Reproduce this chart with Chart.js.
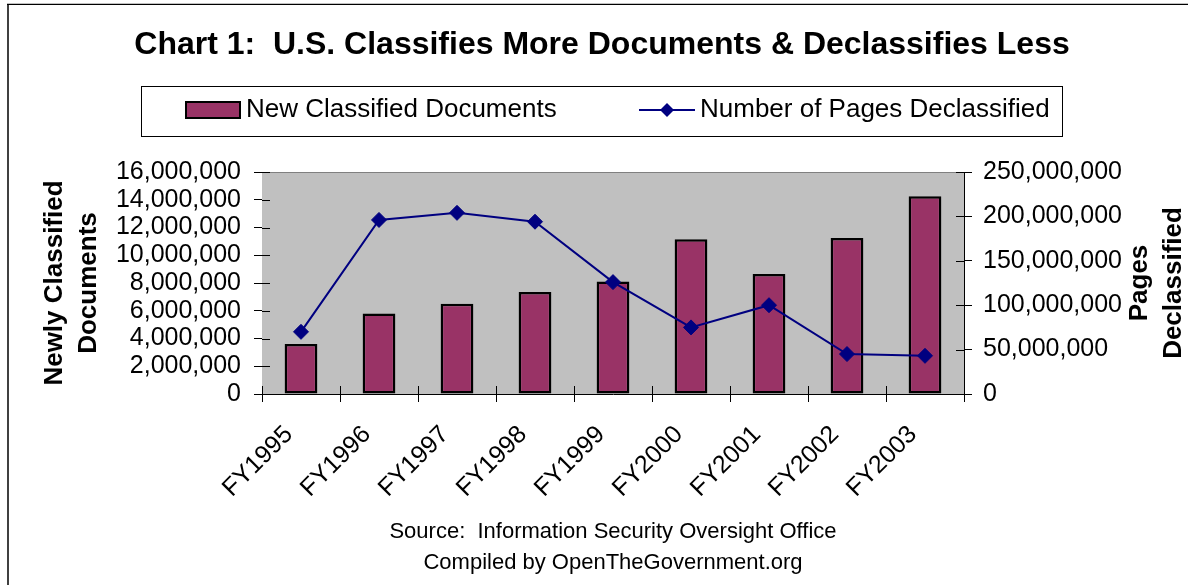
<!DOCTYPE html>
<html>
<head>
<meta charset="utf-8">
<title>Chart 1</title>
<script src="https://cdn.jsdelivr.net/npm/chart.js@4.4.1/dist/chart.umd.min.js"></script>
<style>
  html, body { margin: 0; padding: 0; background: #fff; }
  #wrap { width: 1188px; height: 585px; }
</style>
</head>
<body>
<div id="wrap"><canvas id="classChart" width="1188" height="585"></canvas></div>
<script>
const FONT = '"Liberation Sans", Arial, sans-serif';

const chartTitle = 'Chart 1:  U.S. Classifies More Documents & Declassifies Less';
const sourceLines = ['Source:  Information Security Oversight Office', 'Compiled by OpenTheGovernment.org'];
const leftTitle = ['Newly Classified', 'Documents'];
const rightTitle = ['Pages', 'Declassified'];

const years = ['FY1995', 'FY1996', 'FY1997', 'FY1998', 'FY1999', 'FY2000', 'FY2001', 'FY2002', 'FY2003'];
const newClassified = [3600000, 5800000, 6500000, 7350000, 8100000, 11150000, 8650000, 11250000, 14250000];
const pagesDeclassified = [70000000, 196000000, 204000000, 194000000, 126000000, 75000000, 100000000, 45000000, 43000000];

const fmt = v => Number(v).toLocaleString('en-US');

// grey plot background, frame and Excel style "cross" tick marks
const plotArea = {
    id: 'plotArea',
    beforeDatasetsDraw(chart) {
        const {ctx, chartArea: a} = chart;
        ctx.save();
        ctx.fillStyle = '#c0c0c0';
        ctx.fillRect(a.left, a.top, a.right - a.left, a.bottom - a.top);
        ctx.strokeStyle = '#808080';
        ctx.lineWidth = 1;
        ctx.beginPath();
        ctx.moveTo(a.left, a.top + 0.5);
        ctx.lineTo(a.right, a.top + 0.5);
        ctx.stroke();
        ctx.strokeStyle = '#000';
        ctx.beginPath();
        const y = chart.scales.y, y2 = chart.scales.y2;
        y.ticks.forEach((t, i) => {
            const p = Math.round(y.getPixelForTick(i)) + 0.5;
            ctx.moveTo(a.left, p); ctx.lineTo(a.left + 8, p);
        });
        y2.ticks.forEach((t, i) => {
            const p = Math.round(y2.getPixelForTick(i)) + 0.5;
            ctx.moveTo(a.right - 8, p); ctx.lineTo(a.right, p);
        });
        for (let i = 0; i <= years.length; i++) {
            const p = Math.round(a.left + (a.right - a.left) * i / years.length) + 0.5;
            ctx.moveTo(p, a.bottom); ctx.lineTo(p, a.bottom - 8);
        }
        ctx.stroke();
        ctx.restore();
    }
};

// axis titles, boxed legend and outer frame
const decor = {
    id: 'decor',
    afterDraw(chart) {
        const {ctx, chartArea: a} = chart;
        const midY = (a.top + a.bottom) / 2;
        ctx.save();
        ctx.fillStyle = '#000';
        ctx.font = 'bold 26px ' + FONT;
        ctx.textAlign = 'center';
        ctx.textBaseline = 'middle';
        [[leftTitle, 55], [rightTitle, 1140]].forEach(([lines, x0]) => {
            lines.forEach((txt, i) => {
                ctx.save();
                ctx.translate(x0 + i * 34, midY);
                ctx.rotate(-Math.PI / 2);
                ctx.fillText(txt, 0, 0);
                ctx.restore();
            });
        });

        // legend
        const bar = chart.data.datasets[0], line = chart.data.datasets[1];
        ctx.strokeStyle = '#000';
        ctx.lineWidth = 1;
        ctx.strokeRect(141.5, 86.5, 921, 50);
        const ly = 110;
        ctx.fillStyle = bar.backgroundColor;
        ctx.fillRect(186, 102, 54, 16);
        ctx.lineWidth = 2;
        ctx.strokeRect(186, 102, 54, 16);
        ctx.font = '26px ' + FONT;
        ctx.textAlign = 'left';
        ctx.fillStyle = '#000';
        ctx.fillText(bar.label, 246, ly);
        ctx.strokeStyle = line.borderColor;
        ctx.beginPath();
        ctx.moveTo(639, ly); ctx.lineTo(695, ly);
        ctx.stroke();
        ctx.fillStyle = line.backgroundColor;
        ctx.beginPath();
        ctx.moveTo(667, ly - 7); ctx.lineTo(674, ly); ctx.lineTo(667, ly + 7); ctx.lineTo(660, ly);
        ctx.closePath();
        ctx.fill();
        ctx.fillStyle = '#000';
        ctx.fillText(line.label, 700, ly);

        // outer frame
        ctx.fillStyle = '#404040';
        ctx.fillRect(7, 4, 2, 581);
        ctx.fillStyle = '#000';
        ctx.fillRect(7, 4, 1181, 1);
        ctx.fillStyle = '#c0c0c0';
        ctx.fillRect(7, 3, 1181, 1);
        ctx.restore();
    }
};

const tickFont = {family: FONT, size: 25};

const chart = new Chart(document.getElementById('classChart').getContext('2d'), {
    type: 'bar',
    data: {
        labels: years,
        datasets: [{
            label: 'New Classified Documents',
            data: newClassified,
            yAxisID: 'y',
            backgroundColor: '#993366',
            borderColor: '#000',
            borderWidth: 2.5,
            borderSkipped: false,
            barPercentage: 0.42,
            categoryPercentage: 1,
            order: 1
        }, {
            type: 'line',
            label: 'Number of Pages Declassified',
            data: pagesDeclassified,
            yAxisID: 'y2',
            borderColor: '#000080',
            backgroundColor: '#000080',
            borderWidth: 2,
            pointStyle: 'rectRot',
            pointRadius: 7.5,
            pointHoverRadius: 7.5,
            pointBorderWidth: 1,
            tension: 0,
            clip: false,
            order: 0
        }]
    },
    options: {
        responsive: false,
        animation: false,
        events: [],
        layout: {padding: {top: 26, left: 16, right: 0, bottom: 0}},
        plugins: {
            legend: {display: false},
            tooltip: {enabled: false},
            title: {
                display: true,
                text: chartTitle,
                color: '#000',
                font: {family: FONT, size: 32, weight: 'bold'},
                padding: {top: 0, bottom: 107.6}
            },
            subtitle: {
                display: true,
                position: 'bottom',
                fullSize: false,
                text: sourceLines,
                color: '#000',
                font: {family: FONT, size: 22, lineHeight: 31 / 22},
                padding: {top: 10, bottom: 6.5}
            }
        },
        scales: {
            x: {
                grid: {offset: true, drawOnChartArea: false, tickLength: 8, color: '#000'},
                border: {color: '#000', width: 1},
                ticks: {font: tickFont, color: '#000', minRotation: 45, maxRotation: 45, autoSkip: false, padding: 18, labelOffset: -12},
                afterFit: s => { s.height = 112.5; }
            },
            y: {
                position: 'left',
                min: 0,
                max: 16000000,
                grid: {drawOnChartArea: false, tickLength: 8, color: '#000'},
                border: {color: '#000', width: 1},
                ticks: {stepSize: 2000000, autoSkip: false, font: tickFont, color: '#000', padding: 13, callback: fmt},
                afterFit: s => { s.width = 246; }
            },
            y2: {
                position: 'right',
                min: 0,
                max: 250000000,
                grid: {drawOnChartArea: false, tickLength: 8, color: '#000'},
                border: {color: '#000', width: 1},
                ticks: {stepSize: 50000000, autoSkip: false, font: tickFont, color: '#000', padding: 11, callback: fmt},
                afterFit: s => { s.width = 224; }
            }
        }
    },
    plugins: [plotArea, decor]
});
</script>
</body>
</html>
